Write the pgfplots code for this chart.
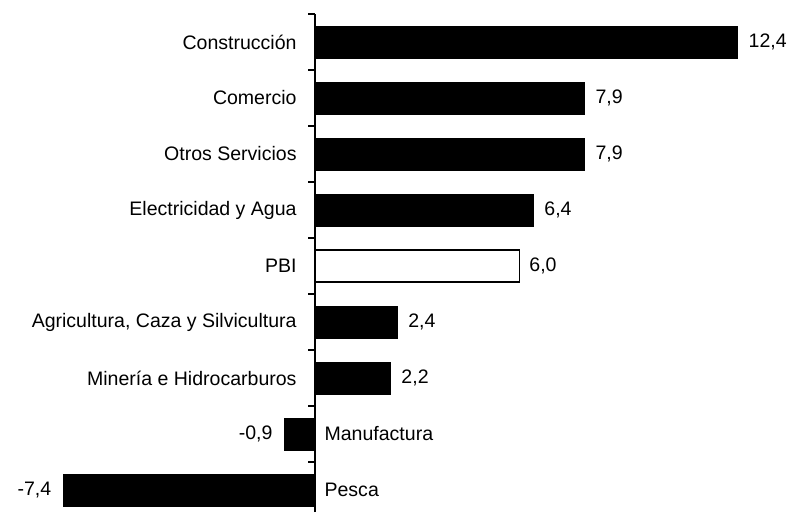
\documentclass[border=0pt]{standalone}
\usepackage{pgfplots}
\pgfplotsset{compat=1.18}
\usepackage{fontspec}
\setmainfont{Liberation Sans}
\begin{document}
\begin{tikzpicture}[font=\fontsize{19.6}{22}\selectfont]
\begin{axis}[
 scale only axis, width=793bp, height=512bp,
 xmin=-9.256, xmax=14.04, ymin=-0.393, ymax=8.75,
 axis lines=none, clip=false,
 every node near coord/.append style={font=\fontsize{19.6}{22}\selectfont, text=black},
]
% positive black bars
\addplot[xbar, bar width=0.57, bar shift=0pt, fill=black, draw=black,
  nodes near coords, point meta=explicit symbolic,
  every node near coord/.append style={anchor=west, xshift=8bp}]
  table[x=v, y=i, meta=l, col sep=semicolon] {
v;i;l
12.4;8;12,4
7.9;7;7,9
7.9;6;7,9
6.4;5;6,4
2.4;3;2,4
2.2;2;2,2
};
% PBI
\addplot[xbar, bar width=0.57, bar shift=0pt, fill=white, draw=black, line width=1.5bp,
  nodes near coords, point meta=explicit symbolic,
  every node near coord/.append style={anchor=west, xshift=6bp}]
  table[x=v, y=i, meta=l, col sep=semicolon] {
v;i;l
6.0;4;6,0
};
% negative bars
\addplot[xbar, bar width=0.57, bar shift=0pt, fill=black, draw=black,
  nodes near coords, point meta=explicit symbolic,
  every node near coord/.append style={anchor=east, xshift=-8.5bp}]
  table[x=v, y=i, meta=l, col sep=semicolon] {
v;i;l
-0.9;1;-0,9
-7.4;0;-7,4
};
% y axis line
\addplot[black, line width=1.5bp, mark=none] coordinates {(0,-0.393) (0,8.5)};
% ticks
\addplot[black, xcomb, line width=1.2bp, mark=none] coordinates {
(-0.2,8.5) (-0.2,7.5) (-0.2,6.5) (-0.2,5.5) (-0.2,4.5) (-0.2,3.5) (-0.2,2.5) (-0.2,1.5) (-0.2,0.5)};
% category labels left
\addplot[draw=none, mark=none, nodes near coords, point meta=explicit symbolic,
  every node near coord/.append style={anchor=east, xshift=-15bp}]
  table[x=v, y=i, meta=l, col sep=semicolon] {
v;i;l
0;8;Construcción
0;7;Comercio
0;6;Otros Servicios
0;5;Electricidad y Agua
0;4;PBI
0;3;Agricultura, Caza y Silvicultura
0;2;Minería e Hidrocarburos
};
% category labels right
\addplot[draw=none, mark=none, nodes near coords, point meta=explicit symbolic,
  every node near coord/.append style={anchor=west, xshift=6bp}]
  table[x=v, y=i, meta=l, col sep=semicolon] {
v;i;l
0;1;Manufactura
0;0;Pesca
};
\end{axis}
\path[use as bounding box] (current axis.south west) rectangle (current axis.north east);
\end{tikzpicture}
\end{document}
